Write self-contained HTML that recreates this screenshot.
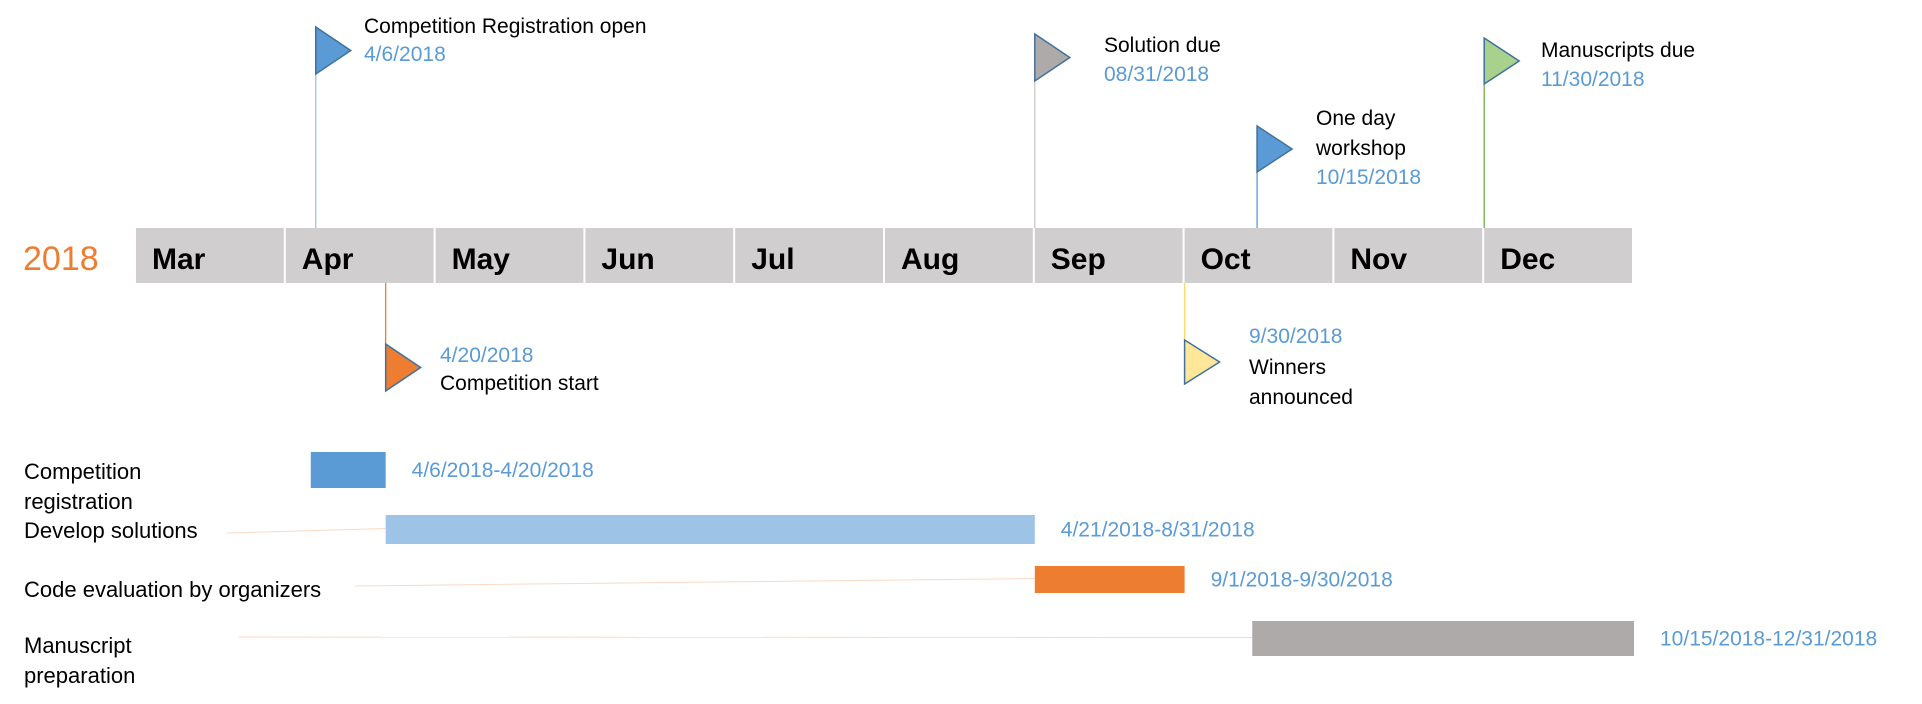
<!DOCTYPE html>
<html><head><meta charset="utf-8">
<style>
html,body{margin:0;padding:0;background:#fff;}
svg{display:block;font-family:"Liberation Sans",Arial,sans-serif;}
</style></head>
<body>
<svg id="chart" width="1922" height="704" viewBox="0 0 1922 704" xmlns="http://www.w3.org/2000/svg">
<text x="23" y="270" font-size="34" fill="#ED7D31">2018</text>
<g id="months"></g>
<g id="milestones"></g>
<g id="tasks"></g>
</svg>
<script>
const months = ["Mar","Apr","May","Jun","Jul","Aug","Sep","Oct","Nov","Dec"];
const monthDays = [31,30,31,30,31,31,30,31,30,31];
const msMonth = [1,1,5,6,7,8];
const msDay = [6,20,31,30,15,30];
const msTitle = [["Competition Registration open"],["Competition start"],["Solution due"],["Winners","announced"],["One day","workshop"],["Manuscripts due"]];
const msDateText = ["4/6/2018","4/20/2018","08/31/2018","9/30/2018","10/15/2018","11/30/2018"];
const taskNames = [["Competition","registration"],["Develop solutions"],["Code evaluation by organizers"],["Manuscript","preparation"]];
const taskStartMonth = [1,1,6,7];
const taskStartDay = [6,21,1,15];
const taskEndMonth = [1,5,6,9];
const taskEndDay = [20,31,30,31];
const taskRangeText = ["4/6/2018-4/20/2018","4/21/2018-8/31/2018","9/1/2018-9/30/2018","10/15/2018-12/31/2018"];

const NS="http://www.w3.org/2000/svg";
const X0=136, MW=149.8, BAR_TOP=228, BAR_BOT=283;
function xDate(m,d){ if(m>=months.length) return X0+months.length*MW; return X0+(m+d/monthDays[m])*MW; }
function mk(tag,attrs,parent){const e=document.createElementNS(NS,tag);for(const k in attrs)e.setAttribute(k,attrs[k]);parent.appendChild(e);return e;}

const gM=document.getElementById('months');
months.forEach((m,i)=>{
  const r=mk('rect',{x:X0+i*MW,y:BAR_TOP,width:MW-2,height:BAR_BOT-BAR_TOP,fill:'#D0CECE'},gM);
  
  
  const t=mk('text',{x:X0+i*MW+16,y:269,'font-size':30,'font-weight':'bold',fill:'#000'},gM);
  t.textContent=m;
  
  
});

const msLayout=[
 {up:true, triTop:27, triH:47, tx:364, ty:[33], dy:61},
 {up:false,triTop:344,triH:47, tx:440, ty:[390], dy:362},
 {up:true, triTop:34, triH:47, tx:1104,ty:[52], dy:81},
 {up:false,triTop:340,triH:44, tx:1249,ty:[374,404], dy:343},
 {up:true, triTop:126,triH:46, tx:1316,ty:[125,155], dy:184},
 {up:true, triTop:38, triH:46, tx:1541,ty:[57], dy:86}
];
const poleCol=["#9DC3E6","#ED7D31","#C9C9C9","#FFD966","#5B9BD5","#70AD47"];
const flagCol=["#5B9BD5","#ED7D31","#AEAAAA","#FFE699","#5B9BD5","#A9D18E"];
const gS=document.getElementById('milestones');
msMonth.forEach((m,i)=>{
  const L=msLayout[i]; const x=xDate(m,msDay[i]);
  const g=mk('g',{},gS);
  
  
  const y1=L.up?L.triTop:BAR_BOT, y2=L.up?BAR_TOP:L.triTop;
  mk('line',{x1:x,y1:y1,x2:x,y2:y2,stroke:poleCol[i],'stroke-width':1.3},g);
  const f=mk('polygon',{points:`${x},${L.triTop} ${x+35},${L.triTop+L.triH/2} ${x},${L.triTop+L.triH}`,fill:flagCol[i],stroke:'#41719C','stroke-width':1.5},g);
  
  
  msTitle[i].forEach((ln,j)=>{
    const t=mk('text',{x:L.tx,y:L.ty[j],'font-size':21,fill:'#000'},g);
    t.textContent=ln;
    
    
  });
  const d=mk('text',{x:L.tx,y:L.dy,'font-size':21,fill:'#5B9BD5'},g);
  d.textContent=msDateText[i];
  
  
});

const taskY=[[452,488],[515,544],[566,593],[621,656]];
const taskCol=["#5B9BD5","#9DC3E6","#ED7D31","#AEAAAA"];
const labelY=[[479,509],[538],[597],[653,683]];
const connStart=[null,[227,533],[355,586],[239,637]];
const gT=document.getElementById('tasks');
taskNames.forEach((nm,i)=>{
  const x1=xDate(taskStartMonth[i],taskStartDay[i]-1), x2=xDate(taskEndMonth[i],taskEndDay[i]);
  const g=mk('g',{},gT);
  
  
  const [yt,yb]=taskY[i];
  if(connStart[i]) mk('line',{x1:connStart[i][0],y1:connStart[i][1],x2:x1,y2:(yt+yb)/2-1,stroke:'#F8CBAD','stroke-width':1,opacity:0.7},g);
  const r=mk('rect',{x:x1,y:yt,width:x2-x1,height:yb-yt,fill:taskCol[i]},g);
  
  
  nm.forEach((ln,j)=>{
    const t=mk('text',{x:24,y:labelY[i][j],'font-size':22,fill:'#000'},g);
    t.textContent=ln;
    
    
  });
  const rt=mk('text',{x:x2+26,y:(yt+yb)/2+7,'font-size':21,fill:'#5B9BD5'},g);
  rt.textContent=taskRangeText[i];
  
  
});
</script>
</body></html>
